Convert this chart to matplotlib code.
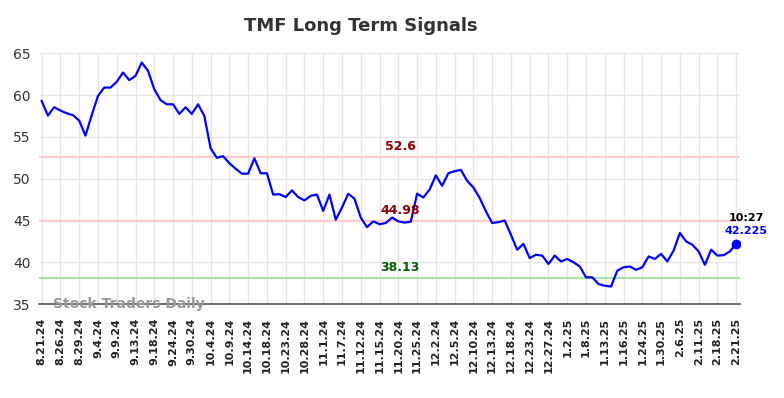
import numpy as np
import matplotlib
matplotlib.use("Agg")
import matplotlib.pyplot as plt

# values, one per trading session
prices = [
    59.3, 57.55, 58.55, 58.15, 57.83, 57.6, 56.95, 55.15, 57.6, 59.9,
    60.9, 60.9, 61.6, 62.7, 61.8, 62.3, 63.9, 62.9, 60.7, 59.4,
    58.9, 58.9, 57.75, 58.55, 57.75, 58.9, 57.5, 53.65, 52.5, 52.7,
    51.85, 51.2, 50.6, 50.6, 52.45, 50.65, 50.65, 48.1, 48.15, 47.8,
    48.6, 47.8, 47.4, 47.95, 48.1, 46.15, 48.1, 45.1, 46.55, 48.2,
    47.6, 45.35, 44.2, 44.9, 44.55, 44.7, 45.35, 44.9, 44.75, 44.85,
    48.2, 47.75, 48.7, 50.4, 49.15, 50.65, 50.9, 51.05, 49.75, 48.95,
    47.7, 46.1, 44.7, 44.8, 45.0, 43.3, 41.5, 42.2, 40.5, 40.9,
    40.8, 39.8, 40.8, 40.1, 40.4, 40.0, 39.5, 38.2, 38.2, 37.4,
    37.2, 37.1, 39.0, 39.4, 39.5, 39.1, 39.4, 40.7, 40.4, 41.0,
    40.1, 41.4, 43.5, 42.5, 42.1, 41.3, 39.7, 41.5, 40.8, 40.85,
    41.3, 42.225,
]

tick_labels = [
    "8.21.24", "8.26.24", "8.29.24", "9.4.24", "9.9.24", "9.13.24",
    "9.18.24", "9.24.24", "9.30.24", "10.4.24", "10.9.24", "10.14.24",
    "10.18.24", "10.23.24", "10.28.24", "11.1.24", "11.7.24", "11.12.24",
    "11.15.24", "11.20.24", "11.25.24", "12.2.24", "12.5.24", "12.10.24",
    "12.13.24", "12.18.24", "12.23.24", "12.27.24", "1.2.25", "1.8.25",
    "1.13.25", "1.16.25", "1.24.25", "1.30.25", "2.6.25", "2.11.25",
    "2.18.25", "2.21.25",
]

resistance = [52.6, 44.98]
support = [38.13]
last_time = "10:27"

fig = plt.figure(figsize=(7.84, 3.98), dpi=100)
ax = fig.add_axes([0.0497, 0.236, 0.8944, 0.630])

x = np.arange(len(prices))
ax.plot(x, prices, color="#0000ff", lw=1.6, zorder=3)
ax.plot(x[-1], prices[-1], "o", color="#0000ff", ms=6, zorder=4)

for lvl in resistance:
    ax.axhline(lvl, color="#ffcccc", lw=1.5, zorder=2)
    ax.text(57.3, lvl + 0.45, f"{lvl:g}", color="#8b0000", fontsize=9,
            fontweight="bold", ha="center", va="bottom")
for lvl in support:
    ax.axhline(lvl, color="#a8e6a0", lw=1.5, zorder=2)
    ax.text(57.3, lvl + 0.45, f"{lvl:g}", color="#006400", fontsize=9,
            fontweight="bold", ha="center", va="bottom")

ax.text(x[-1] + 1.6, prices[-1] + 2.5, last_time, color="black", fontsize=8,
        fontweight="bold", ha="center", va="bottom")
ax.text(x[-1] + 1.6, prices[-1] + 0.9, f"{prices[-1]:g}", color="#0000ff",
        fontsize=8, fontweight="bold", ha="center", va="bottom")

ax.set_xlim(-0.43, len(prices) - 1 + 0.64)
ax.set_ylim(35, 65)
ax.set_yticks([35, 40, 45, 50, 55, 60, 65])
ticks = np.arange(0, len(prices), 3)
ax.set_xticks(ticks)
ax.set_xticklabels(tick_labels, rotation=90, fontsize=8, fontweight="bold",
                   color="#222222")
ax.tick_params(axis="y", labelsize=10, colors="#333333", length=0, pad=6)
ax.tick_params(axis="x", length=0, pad=10)

ax.grid(True, color="#e6e6e6", lw=1)
ax.set_axisbelow(True)
for s in ["top", "right", "left"]:
    ax.spines[s].set_visible(False)
ax.spines["bottom"].set_color("#555555")
ax.spines["bottom"].set_linewidth(1.2)

ax.text(0.02, 0.0, "Stock Traders Daily", transform=ax.transAxes,
        fontsize=10, fontweight="bold", color="#999999", va="center",
        ha="left", zorder=5)

fig.text(0.46, 0.935, "TMF Long Term Signals", fontsize=13, fontweight="bold",
         color="#333333", ha="center", va="center")

fig.savefig("out.png", dpi=100)
